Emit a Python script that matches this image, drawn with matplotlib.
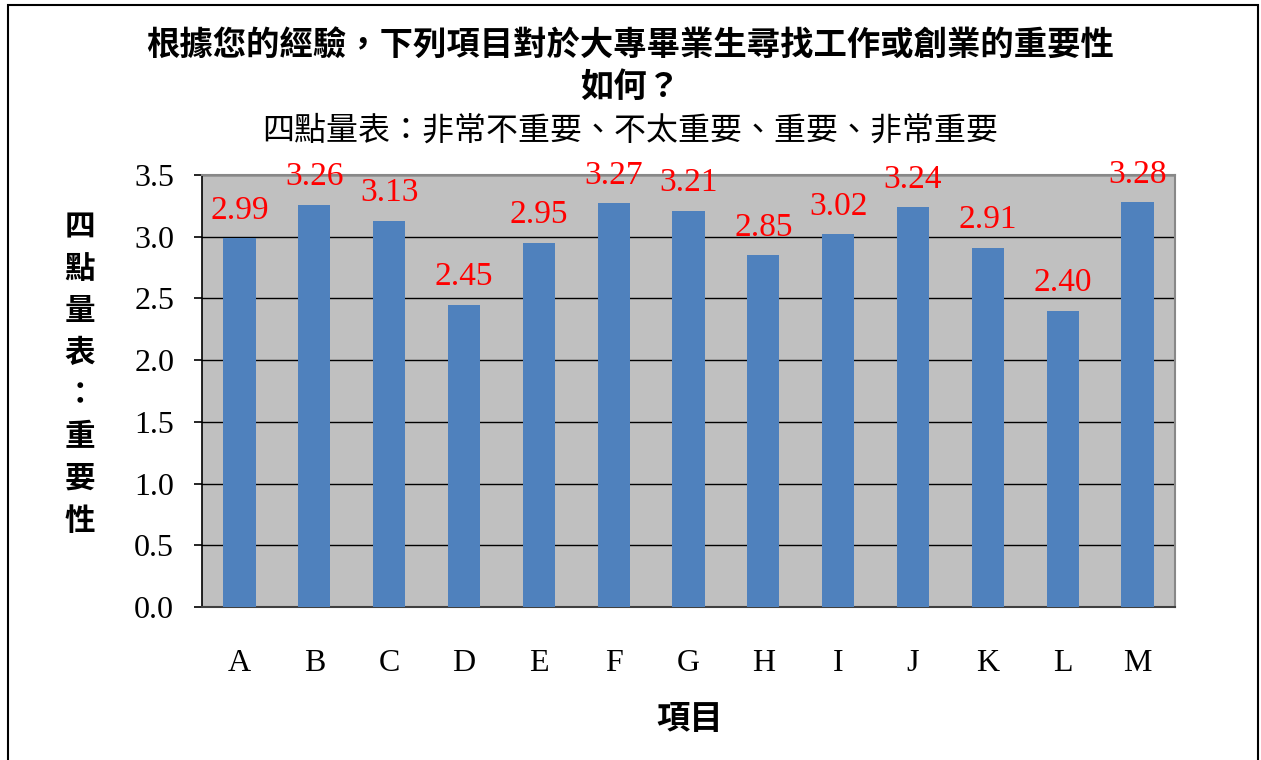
import matplotlib
matplotlib.use("Agg")
import matplotlib.pyplot as plt
from matplotlib.patches import Rectangle

# data
items = ["A", "B", "C", "D", "E", "F", "G", "H", "I", "J", "K", "L", "M"]
scores = [2.99, 3.26, 3.13, 2.45, 2.95, 3.27, 3.21, 2.85, 3.02, 3.24, 2.91, 2.40, 3.28]
yticks = [0.0, 0.5, 1.0, 1.5, 2.0, 2.5, 3.0, 3.5]

title = "根據您的經驗，下列項目對於大專畢業生尋找工作或創業的重要性\n如何？"
subtitle = "四點量表：非常不重要、不太重要、重要、非常重要"
ylabel = "四點量表：重要性"
xlabel = "項目"

CJK = ["Noto Sans CJK TC", "DejaVu Sans"]
SERIF = ["Liberation Serif", "Noto Sans CJK TC"]

fig = plt.figure(figsize=(12.61, 7.6), dpi=100)
ax = fig.add_axes([0.1602, 0.2013, 0.7716, 0.5684])

# outer frame of the chart
fig.patches.append(Rectangle((8 / 1261, -0.01), 1250 / 1261, 1 - 5 / 760 + 0.01,
                             transform=fig.transFigure, fill=False,
                             edgecolor="black", linewidth=1.5))

ax.set_facecolor("#C0C0C0")
ax.set_axisbelow(True)
ax.yaxis.grid(True, color="black", linewidth=1.0)

x = range(len(items))
ax.bar(x, scores, width=0.43, color="#4F81BD", zorder=3)

for xi, v in zip(x, scores):
    ax.annotate(f"{v:.2f}", (xi, v), xytext=(0, 14), textcoords="offset points",
                ha="center", va="baseline", color="red", fontsize=24,
                family=SERIF, zorder=5, annotation_clip=False)

ax.set_xlim(-0.5, len(items) - 0.5)
ax.set_ylim(0, 3.5)
ax.set_yticks(yticks)
ax.set_yticklabels([f"{t:.1f}" for t in yticks], family=SERIF, fontsize=23)
ax.set_xticks(list(x))
ax.set_xticklabels(items, family=SERIF, fontsize=23)
ax.tick_params(axis="x", length=0, pad=30)
ax.tick_params(axis="y", length=6, width=1.2, pad=14, color="black")

ax.spines["left"].set_color("black")
ax.spines["left"].set_linewidth(1.2)
ax.spines["bottom"].set_color("#404040")
ax.spines["bottom"].set_linewidth(1.5)
ax.spines["top"].set_color("#888888")
ax.spines["right"].set_color("#888888")
ax.spines["top"].set_linewidth(1.5)
ax.spines["right"].set_linewidth(1.5)

fig.text(0.5, 1 - 66 / 760, title, ha="center", va="center", fontsize=24,
         fontweight="bold", family=CJK, linespacing=1.35)
fig.text(0.5, 1 - 131 / 760, subtitle, ha="center", va="center", fontsize=23,
         family=CJK)
fig.text(80 / 1261, 1 - 374 / 760, "\n".join(ylabel), ha="center", va="center",
         fontsize=22, fontweight="bold", family=CJK, linespacing=1.4)
fig.text(690 / 1261, 1 - 720 / 760, xlabel, ha="center", va="center",
         fontsize=24, fontweight="bold", family=CJK)

fig.savefig("out.png", dpi=100)
